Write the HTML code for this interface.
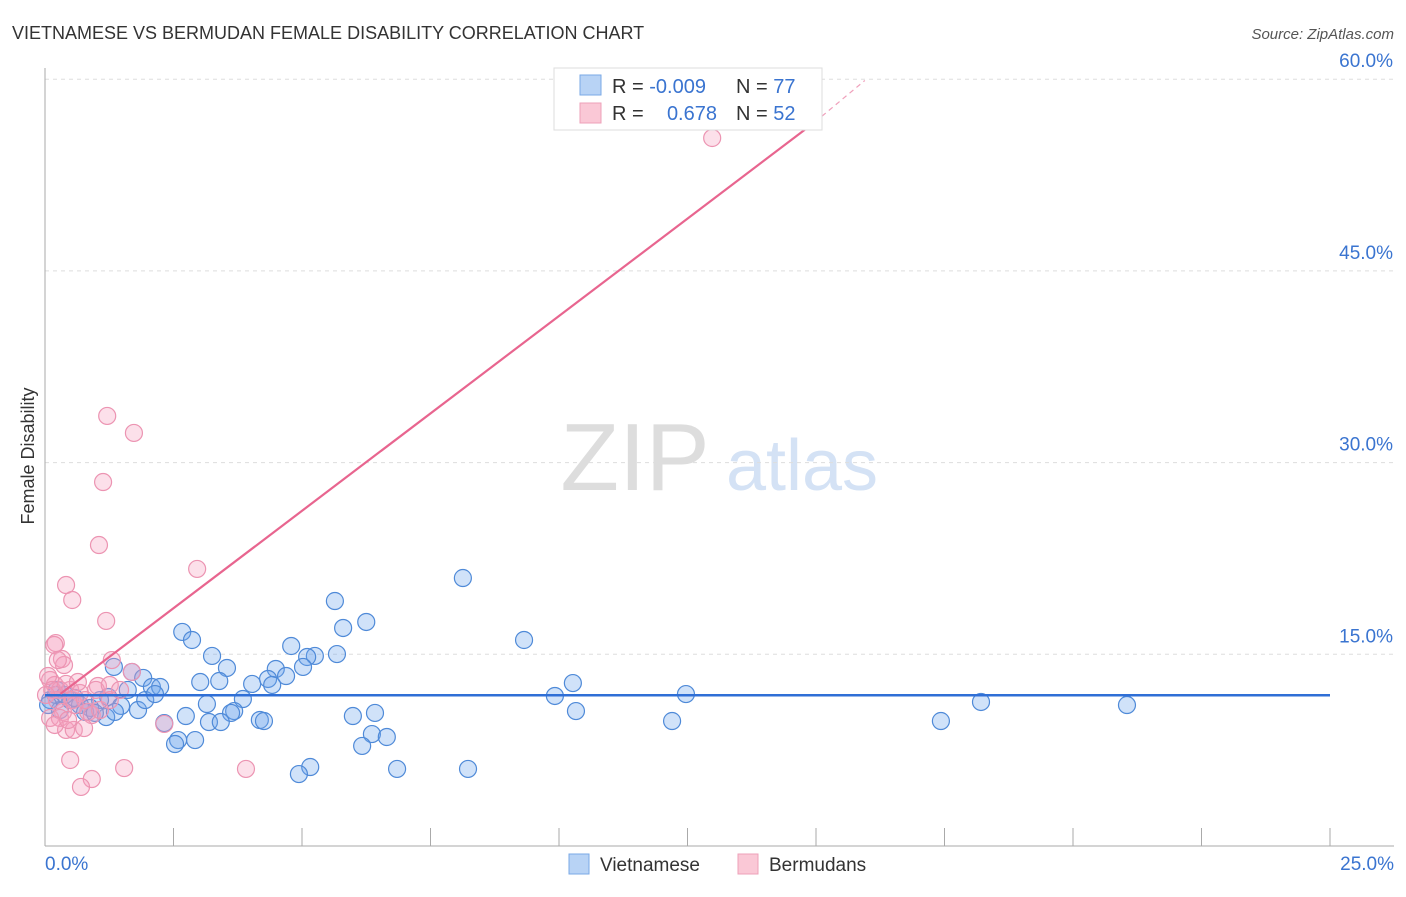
<!DOCTYPE html>
<html><head><meta charset="utf-8">
<style>
body{margin:0;background:#fff;font-family:"Liberation Sans",sans-serif;}
svg text{font-family:"Liberation Sans",sans-serif;}
</style></head>
<body>
<svg id="chart" width="1406" height="892" viewBox="0 0 1406 892" xmlns="http://www.w3.org/2000/svg">
<text x="12" y="39" font-size="18" fill="#333">VIETNAMESE VS BERMUDAN FEMALE DISABILITY CORRELATION CHART</text>
<text x="1394" y="39" font-size="15" fill="#555" text-anchor="end" font-style="italic">Source: ZipAtlas.com</text>
<text transform="translate(34,456) rotate(-90)" font-size="18" fill="#333" text-anchor="middle">Female Disability</text>
<g>
<text x="635" y="490" font-size="96" fill="#ddd" text-anchor="middle" font-family="Liberation Serif,serif">ZIP</text>
<text x="802" y="490" font-size="72" fill="#d4e2f5" text-anchor="middle">atlas</text>
</g>
<g id="grid"></g>
<g id="axes"></g>
<g id="marks"></g>
<g>
<rect x="554" y="68" width="268" height="62" fill="#fff" stroke="#ddd"/>
<rect x="580" y="75" width="21" height="20" fill="#b8d3f5" stroke="#7aa8e6"/>
<rect x="580" y="103" width="21" height="20" fill="#fac8d6" stroke="#eea0b8"/>
<text x="612" y="93" font-size="20" fill="#333">R = <tspan fill="#3a74d0">-0.009</tspan></text>
<text x="736" y="93" font-size="20" fill="#333">N = <tspan fill="#3a74d0">77</tspan></text>
<text x="612" y="120" font-size="20" fill="#333">R = </text>
<text x="717" y="120" font-size="20" fill="#3a74d0" text-anchor="end">0.678</text>
<text x="736" y="120" font-size="20" fill="#333">N = <tspan fill="#3a74d0">52</tspan></text>
</g>
<g>
<rect x="569" y="854" width="20" height="20" fill="#b8d3f5" stroke="#7aa8e6"/>
<text x="600" y="871" font-size="19" fill="#333">Vietnamese</text>
<rect x="738" y="854" width="20" height="20" fill="#fac8d6" stroke="#eea0b8"/>
<text x="769" y="871" font-size="19" fill="#333">Bermudans</text>
</g>
</svg>
<script>
const xTicks=[0,2.5,5,7.5,10,12.5,15,17.5,20,22.5,25];
const yTicks=[15,30,45,60];
const yTickLabels=["15.0%","30.0%","45.0%","60.0%"];
const viet=[[8.13,20.97],[5.64,19.17],[6.25,17.53],[5.80,17.06],[2.67,16.75],[2.86,16.12],[9.32,16.12],[4.79,15.65],[3.25,14.87],[5.68,15.02],[5.25,14.87],[5.10,14.79],[3.54,13.93],[4.49,13.85],[5.02,14.01],[1.34,14.01],[1.69,13.62],[4.69,13.30],[1.91,13.15],[3.02,12.83],[3.39,12.91],[4.34,13.07],[4.42,12.60],[2.08,12.44],[2.24,12.44],[10.27,12.75],[12.47,11.89],[1.61,12.21],[3.85,11.50],[4.03,12.68],[9.92,11.74],[1.23,11.66],[1.07,11.42],[1.48,10.96],[1.81,10.64],[3.15,11.11],[3.68,10.56],[3.62,10.41],[10.33,10.56],[18.21,11.27],[21.05,11.03],[0.23,12.21],[0.10,11.42],[0.29,10.64],[0.49,11.42],[0.68,11.03],[0.88,10.80],[1.19,10.09],[2.74,10.17],[3.19,9.70],[3.42,9.70],[4.18,9.86],[4.26,9.78],[5.99,10.17],[6.42,10.41],[12.20,9.78],[17.43,9.78],[2.32,9.62],[6.36,8.76],[6.65,8.53],[2.59,8.29],[2.53,7.98],[2.92,8.29],[6.17,7.83],[5.16,6.18],[4.94,5.63],[6.85,6.03],[8.23,6.03],[0.21,11.82],[0.58,11.58],[0.78,10.49],[0.06,11.03],[0.39,11.82],[0.97,10.41],[1.36,10.49],[1.95,11.42],[2.14,11.89]];
const berm=[[12.98,55.40],[1.21,33.65],[1.73,32.32],[1.13,28.48],[1.05,23.55],[2.96,21.68],[0.41,20.42],[0.53,19.25],[1.19,17.61],[0.21,15.88],[0.18,15.73],[0.33,14.63],[0.37,14.16],[0.25,14.55],[1.30,14.55],[1.69,13.62],[0.10,12.99],[0.19,12.60],[0.29,12.21],[0.49,12.21],[0.68,11.97],[1.03,12.52],[0.99,12.21],[1.26,12.60],[0.53,11.42],[0.35,10.49],[0.58,11.03],[0.84,10.49],[0.10,10.02],[0.29,10.02],[0.91,10.25],[2.32,9.55],[0.41,9.08],[0.56,9.08],[0.76,9.23],[0.49,6.73],[0.91,5.24],[0.70,4.62],[1.54,6.10],[3.91,6.03],[0.06,13.30],[0.14,12.21],[0.23,11.42],[0.41,12.68],[0.78,11.42],[1.07,10.64],[0.02,11.82],[0.64,12.83],[0.19,9.47],[0.45,9.86],[1.26,11.42],[1.46,12.21]];
const vietLine=[[0,11.8],[25,11.8]];
const bermLine=[[0.3,11.9],[14.98,56.65]];
const bermDash=[[14.98,56.65],[15.95,59.9]];
const NS="http://www.w3.org/2000/svg";
const sx=v=>45+v/25*1285;
const sy=v=>846-v/15*191.7;
function mk(tag,attrs,parent){const e=document.createElementNS(NS,tag);for(const k in attrs)e.setAttribute(k,attrs[k]);document.getElementById(parent).appendChild(e);return e;}
yTicks.forEach((t,i)=>{
 const g=mk('line',{x1:45,x2:1394,y1:sy(t),y2:sy(t),stroke:'#ddd','stroke-dasharray':'4,4'},'grid');
 
 
 const l=mk('text',{x:1393,y:sy(t)-12,'font-size':19,fill:'#3a74d0','text-anchor':'end'},'axes');
 l.textContent=yTickLabels[i];
 
 
});
const ya=mk('line',{x1:45,x2:45,y1:68,y2:846,stroke:'#aaa'},'axes');


const xa=mk('line',{x1:45,x2:1394,y1:846,y2:846,stroke:'#aaa'},'axes');


xTicks.forEach(t=>{
 const k=mk('line',{x1:sx(t),x2:sx(t),y1:828,y2:846,stroke:'#aaa'},'axes');
 
 
});
const x0=mk('text',{x:45,y:870,'font-size':19,fill:'#3a74d0'},'axes');x0.textContent=xTicks[0].toFixed(1)+'%';


const x1=mk('text',{x:1394,y:870,'font-size':19,fill:'#3a74d0','text-anchor':'end'},'axes');x1.textContent=xTicks[xTicks.length-1].toFixed(1)+'%';


viet.forEach(p=>{
 const c=mk('circle',{cx:sx(p[0]),cy:sy(p[1]),r:8.5,fill:'rgba(110,165,235,0.32)',stroke:'#4f8ad8','stroke-width':1.2},'marks');
 
 
});
berm.forEach(p=>{
 const c=mk('circle',{cx:sx(p[0]),cy:sy(p[1]),r:8.5,fill:'rgba(245,160,190,0.32)',stroke:'#ec94b2','stroke-width':1.2},'marks');
 
 
});
const vl=mk('line',{x1:sx(vietLine[0][0]),y1:sy(vietLine[0][1]),x2:sx(vietLine[1][0]),y2:sy(vietLine[1][1]),stroke:'#2f6fd6','stroke-width':2.5},'marks');


const bl=mk('line',{x1:sx(bermLine[0][0]),y1:sy(bermLine[0][1]),x2:sx(bermLine[1][0]),y2:sy(bermLine[1][1]),stroke:'#e8658f','stroke-width':2.2},'marks');


const bd=mk('line',{x1:sx(bermDash[0][0]),y1:sy(bermDash[0][1]),x2:sx(bermDash[1][0]),y2:sy(bermDash[1][1]),stroke:'#f0a0bb','stroke-width':1.2,'stroke-dasharray':'5,4'},'marks');


</script>
</body></html>
